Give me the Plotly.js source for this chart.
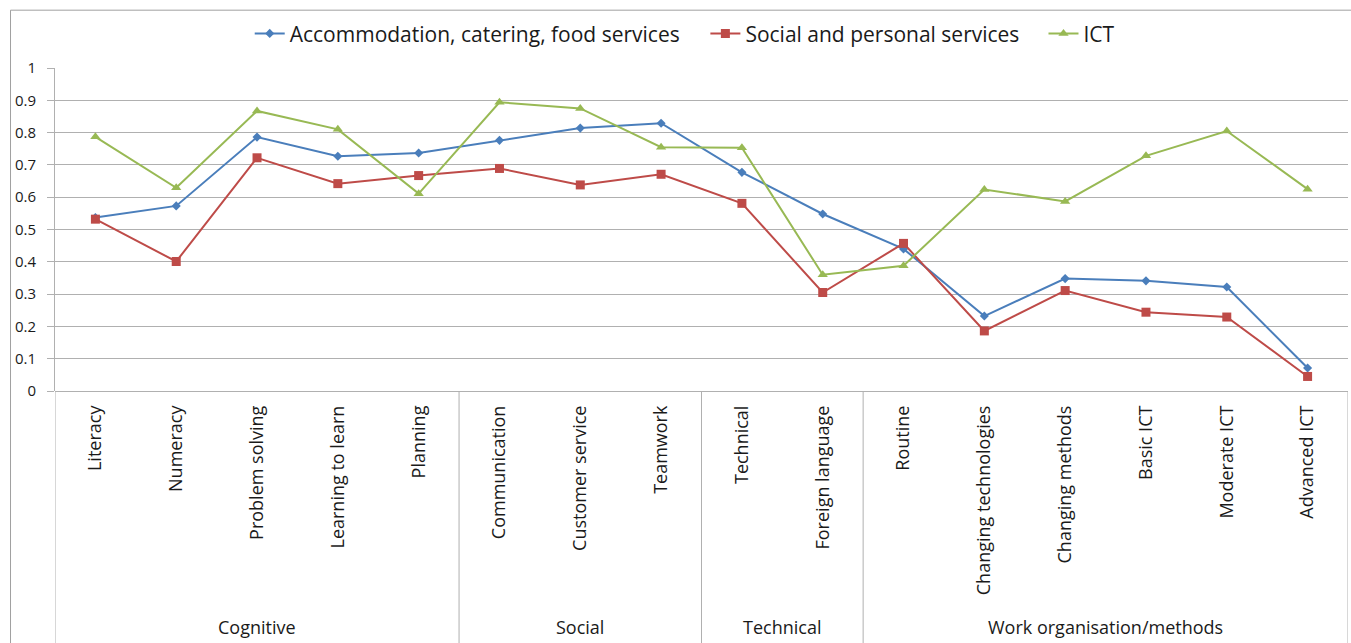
<!DOCTYPE html>
<html>
<head>
<meta charset="utf-8">
<script src="https://cdn.plot.ly/plotly-3.0.1.min.js"></script>
<style>
  html, body { margin: 0; padding: 0; background: #ffffff; }
  #chart { width: 1351px; height: 643px; }
</style>
</head>
<body>
<div id="chart"></div>
<script>
// ---- data ----
const categories = ['Literacy', 'Numeracy', 'Problem solving', 'Learning to learn', 'Planning',
  'Communication', 'Customer service', 'Teamwork', 'Technical', 'Foreign language',
  'Routine', 'Changing technologies', 'Changing methods', 'Basic ICT', 'Moderate ICT', 'Advanced ICT'];
const groupNames = ['Cognitive', 'Social', 'Technical', 'Work organisation/methods'];
const groupSizes = [5, 3, 2, 6];
const seriesNames = ['Accommodation, catering, food services', 'Social and personal services', 'ICT'];
const accommodation = [0.537, 0.573, 0.786, 0.727, 0.737, 0.776, 0.814, 0.829, 0.677, 0.548, 0.440, 0.232, 0.348, 0.341, 0.322, 0.071];
const socialPersonal = [0.532, 0.401, 0.722, 0.642, 0.667, 0.689, 0.638, 0.671, 0.581, 0.305, 0.457, 0.186, 0.311, 0.244, 0.229, 0.045];
const ict = [0.787, 0.629, 0.867, 0.810, 0.611, 0.894, 0.875, 0.755, 0.753, 0.360, 0.388, 0.624, 0.587, 0.728, 0.805, 0.625];

// ---- styles ----
const FONT = '"Open Sans", Lato, sans-serif';
const TEXT = '#1a1a1a';
const GRID = '#b0b0b0';
const colors = ['#4a7ebb', '#be4b48', '#98b954'];
const symbols = ['diamond', 'square', 'triangle-up'];
const msizes = [7, 9, 9];
const values = [accommodation, socialPersonal, ict];
const legendIds = ['legend', 'legend2', 'legend3'];
const legendX = [0.1506, 0.503, 0.7645];

const traces = values.map((v, i) => ({
  type: 'scatter', mode: 'lines+markers',
  name: seriesNames[i], x: categories, y: v, legend: legendIds[i],
  line: { color: colors[i], width: 2 },
  marker: { color: colors[i], symbol: symbols[i], size: msizes[i] }
}));

// group dividers and labels
const shapes = [];
const annotations = [];
let start = 0;
const below = -0.8;
shapes.push({ type: 'line', xref: 'x', yref: 'paper', x0: -0.5, x1: -0.5, y0: 0, y1: below, line: { color: GRID, width: 1 } });
groupSizes.forEach((n, g) => {
  const end = start + n;
  shapes.push({ type: 'line', xref: 'x', yref: 'paper', x0: end - 0.5, x1: end - 0.5, y0: 0, y1: below, line: { color: GRID, width: 1 } });
  annotations.push({ xref: 'x', yref: 'paper', x: (start + end - 1) / 2, y: -0.73, yanchor: 'middle',
    text: groupNames[g], showarrow: false, font: { family: FONT, size: 18, color: TEXT } });
  start = end;
});
// outer chart frame
shapes.push({ type: 'rect', xref: 'paper', yref: 'paper', x0: -0.0344, x1: 1.05, y0: -1, y1: 1.179,
  line: { color: '#a0a0a0', width: 1 }, fillcolor: 'rgba(0,0,0,0)', layer: 'below' });

const legendBase = (x) => ({ orientation: 'h', x: x, xanchor: 'left', y: 1.106, yanchor: 'middle',
  font: { family: FONT, size: 21, color: TEXT }, itemwidth: 30, bgcolor: 'rgba(0,0,0,0)' });

const layout = {
  width: 1351, height: 643,
  margin: { l: 55, r: 3, t: 67.5, b: 251.5 },
  paper_bgcolor: '#ffffff', plot_bgcolor: '#ffffff',
  font: { family: FONT, size: 16, color: TEXT },
  showlegend: true,
  legend: legendBase(legendX[0]),
  legend2: legendBase(legendX[1]),
  legend3: legendBase(legendX[2]),
  xaxis: { type: 'category', range: [-0.5, categories.length - 0.5], tickangle: -90,
    showgrid: false, zeroline: false, showline: false, ticks: '', ticklabelstandoff: 10,
    tickfont: { family: FONT, size: 18, color: TEXT }, automargin: false, fixedrange: true },
  yaxis: { range: [0, 1], dtick: 0.1, tick0: 0, showgrid: true, gridcolor: GRID, gridwidth: 1,
    zeroline: true, zerolinecolor: GRID, zerolinewidth: 1,
    showline: true, linecolor: GRID, linewidth: 1, ticks: 'outside', ticklen: 7, tickcolor: GRID,
    ticklabelstandoff: 8,
    tickfont: { family: FONT, size: 15, color: TEXT }, automargin: false, fixedrange: true },
  shapes: shapes,
  annotations: annotations
};

Plotly.newPlot('chart', traces, layout, { displayModeBar: false, staticPlot: true });
</script>
</body>
</html>
